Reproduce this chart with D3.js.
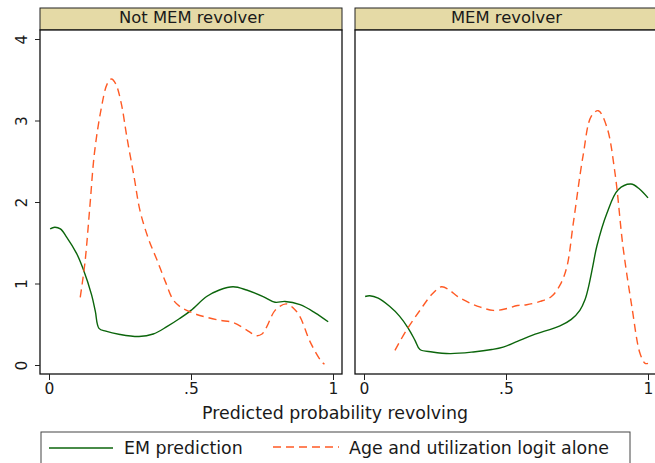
<!DOCTYPE html>
<html><head><meta charset="utf-8">
<script src="https://cdn.jsdelivr.net/npm/d3@7"></script>
<style>body{margin:0;background:#fff}svg{display:block}text{font-family:"DejaVu Sans",sans-serif;fill:#1a1a1a}</style>
</head><body>
<script>
const panelTitles = ["Not MEM revolver", "MEM revolver"];
const seriesNames = ["EM prediction", "Age and utilization logit alone"];
const xTickValues = [0, 0.5, 1];
const xTickLabels = ["0", ".5", "1"];
const yTickValues = [0, 1, 2, 3, 4];

const notMemEM = [[0.004,1.67],[0.02,1.69],[0.04,1.67],[0.062,1.57],[0.097,1.37],[0.12,1.18],[0.15,0.86],[0.163,0.66],[0.176,0.45],[0.2,0.415],[0.25,0.375],[0.317,0.35],[0.367,0.38],[0.415,0.47],[0.46,0.57],[0.5,0.67],[0.555,0.84],[0.6,0.92],[0.648,0.96],[0.696,0.92],[0.754,0.84],[0.796,0.77],[0.831,0.78],[0.884,0.74],[0.937,0.64],[0.983,0.53]];
const notMemLogit = [[0.11,0.83],[0.127,1.27],[0.144,1.95],[0.16,2.6],[0.183,3.13],[0.205,3.45],[0.22,3.51],[0.235,3.45],[0.255,3.2],[0.274,2.80],[0.3,2.3],[0.32,1.90],[0.35,1.55],[0.38,1.29],[0.41,1.02],[0.437,0.80],[0.46,0.72],[0.485,0.67],[0.52,0.62],[0.55,0.59],[0.6,0.55],[0.65,0.52],[0.7,0.42],[0.73,0.36],[0.75,0.38],[0.767,0.47],[0.796,0.67],[0.835,0.75],[0.86,0.70],[0.884,0.59],[0.92,0.28],[0.96,0.04],[0.97,0.01]];
const memEM = [[0.004,0.84],[0.02,0.85],[0.05,0.82],[0.09,0.72],[0.125,0.6],[0.156,0.45],[0.18,0.3],[0.197,0.19],[0.24,0.16],[0.303,0.14],[0.385,0.16],[0.45,0.19],[0.49,0.22],[0.54,0.29],[0.596,0.37],[0.69,0.48],[0.73,0.56],[0.76,0.67],[0.778,0.80],[0.79,0.95],[0.805,1.2],[0.82,1.46],[0.855,1.86],[0.895,2.15],[0.94,2.22],[0.97,2.16],[1.0,2.05]];
const memLogit = [[0.109,0.18],[0.15,0.43],[0.197,0.67],[0.24,0.87],[0.273,0.96],[0.3,0.92],[0.33,0.84],[0.373,0.76],[0.41,0.71],[0.455,0.67],[0.5,0.69],[0.54,0.73],[0.573,0.74],[0.62,0.78],[0.66,0.84],[0.69,0.98],[0.714,1.2],[0.737,1.74],[0.771,2.56],[0.80,3.05],[0.825,3.12],[0.855,2.92],[0.884,2.35],[0.912,1.45],[0.943,0.72],[0.972,0.14],[0.99,0.02],[1.0,0.02]];

const panels = [
  {title: panelTitles[0], left: 40, em: notMemEM, logit: notMemLogit},
  {title: panelTitles[1], left: 355, em: memEM, logit: memLogit}
];
const colEM = "#0b650b", colLogit = "#ff5a24";
const W = 655, H = 463;
const pw = 302, plotTop = 30, plotBottom = 374, stripTop = 8;

const svg = d3.select("body").append("svg").attr("width", W).attr("height", H);
const y = d3.scaleLinear().domain([0, 4]).range([365, 39]);

panels.forEach((p, i) => {
  const x = d3.scaleLinear().domain([0, 1]).range([p.left + 9, p.left + 293]);
  const g = svg.append("g");
  g.append("rect").attr("x", p.left).attr("y", stripTop).attr("width", pw).attr("height", plotTop - stripTop)
    .attr("fill", "#e5daa6").attr("stroke", "#222").attr("stroke-width", 1);
  g.append("text").attr("x", p.left + pw / 2 + 0.5).attr("y", 23).attr("text-anchor", "middle")
    .attr("font-size", 16.4).text(p.title);
  g.append("rect").attr("x", p.left).attr("y", plotTop).attr("width", pw).attr("height", plotBottom - plotTop)
    .attr("fill", "#fff").attr("stroke", "#111").attr("stroke-width", 1.3);
  const xa = g.append("g").attr("transform", `translate(0,${plotBottom})`)
    .call(d3.axisBottom(x).tickValues(xTickValues).tickFormat((d, j) => xTickLabels[j]).tickSize(6).tickPadding(3));
  xa.select(".domain").remove();
  xa.selectAll("line").attr("stroke", "#222");
  xa.selectAll("text").attr("font-size", 15.5).attr("font-family", "DejaVu Sans").attr("fill", "#1a1a1a");
  if (i === 0) {
    const ya = g.append("g").attr("transform", `translate(${p.left},0)`)
      .call(d3.axisLeft(y).tickValues(yTickValues).tickSize(5).tickPadding(0));
    ya.select(".domain").remove();
    ya.selectAll("line").attr("stroke", "#222");
    ya.selectAll("text").remove();
    ya.selectAll(".tick").append("text")
      .attr("transform", "translate(-13,0) rotate(-90)")
      .attr("text-anchor", "middle").attr("font-size", 15.5).attr("font-family", "DejaVu Sans")
      .attr("fill", "#1a1a1a").text(d => d3.format("d")(d));
  }
  const line = d3.line().x(d => x(d[0])).y(d => y(d[1])).curve(d3.curveCatmullRom.alpha(0.5));
  g.append("path").attr("d", line(p.em)).attr("fill", "none").attr("stroke", colEM).attr("stroke-width", 1.4);
  g.append("path").attr("d", line(p.logit)).attr("fill", "none").attr("stroke", colLogit).attr("stroke-width", 1.4)
    .attr("stroke-dasharray", "8,5");
});

svg.append("text").attr("x", 335).attr("y", 419).attr("text-anchor", "middle").attr("font-size", 17.4)
  .text("Predicted probability revolving");

const lg = svg.append("g");
lg.append("rect").attr("x", 41).attr("y", 432).attr("width", 589).attr("height", 40)
  .attr("fill", "#fff").attr("stroke", "#444").attr("stroke-width", 1);
lg.append("line").attr("x1", 49).attr("x2", 113).attr("y1", 448).attr("y2", 448).attr("stroke", colEM).attr("stroke-width", 1.4);
lg.append("text").attr("x", 124).attr("y", 454).attr("font-size", 17.4).text(seriesNames[0]);
lg.append("line").attr("x1", 273).attr("x2", 339).attr("y1", 447).attr("y2", 447).attr("stroke", colLogit).attr("stroke-width", 1.4)
  .attr("stroke-dasharray", "8,5");
lg.append("text").attr("x", 349).attr("y", 454).attr("font-size", 17.4).text(seriesNames[1]);
</script>
</body></html>
